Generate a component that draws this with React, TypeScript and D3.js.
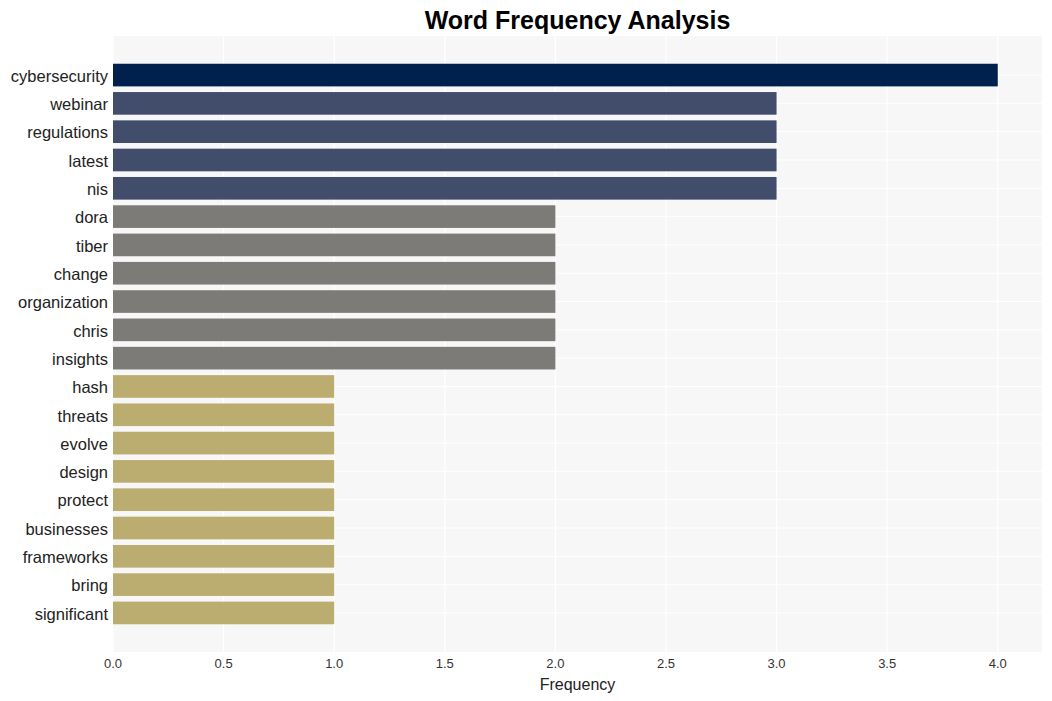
import { useEffect, useRef } from 'react'
import * as d3 from 'd3'

const words = [
  'cybersecurity', 'webinar', 'regulations', 'latest', 'nis', 'dora', 'tiber', 'change',
  'organization', 'chris', 'insights', 'hash', 'threats', 'evolve', 'design', 'protect',
  'businesses', 'frameworks', 'bring', 'significant'
]
const counts = [4, 3, 3, 3, 3, 2, 2, 2, 2, 2, 2, 1, 1, 1, 1, 1, 1, 1, 1, 1]
const xTicks = [0, 0.5, 1, 1.5, 2, 2.5, 3, 3.5, 4]

const colorFor: Record<number, string> = {
  4: '#00204e',
  3: '#414d6b',
  2: '#7c7b78',
  1: '#bbac6f'
}

const width = 1052
const height = 701

export default function App() {
  const svgRef = useRef<SVGSVGElement>(null)

  useEffect(() => {
    if (!svgRef.current) return
    const svg = d3.select(svgRef.current)
    svg.selectAll('*').remove()

    const margin = { top: 36, right: 10, bottom: 49, left: 113 }
    const innerWidth = width - margin.left - margin.right
    const innerHeight = height - margin.top - margin.bottom

    const x = d3.scaleLinear().domain([0, 4.2]).range([0, innerWidth])
    const y = d3.scaleBand<string>()
      .domain(words)
      .range([0, innerHeight])
      .paddingInner(0.2)
      .paddingOuter(0.98)

    svg.append('rect')
      .attr('width', width)
      .attr('height', height)
      .attr('fill', '#ffffff')

    const g = svg.append('g')
      .attr('transform', `translate(${margin.left},${margin.top})`)

    g.append('rect')
      .attr('width', innerWidth)
      .attr('height', innerHeight)
      .attr('fill', '#f7f7f7')

    // grid
    g.selectAll('.vgrid')
      .data(xTicks)
      .enter()
      .append('line')
      .attr('x1', d => x(d))
      .attr('x2', d => x(d))
      .attr('y1', 0)
      .attr('y2', innerHeight)
      .attr('stroke', '#ffffff')
      .attr('stroke-width', 1.2)

    g.selectAll('.hgrid')
      .data(words)
      .enter()
      .append('line')
      .attr('x1', 0)
      .attr('x2', innerWidth)
      .attr('y1', d => (y(d) ?? 0) + y.bandwidth() / 2)
      .attr('y2', d => (y(d) ?? 0) + y.bandwidth() / 2)
      .attr('stroke', '#ffffff')
      .attr('stroke-width', 1)

    // bars
    g.selectAll('.bar')
      .data(words)
      .enter()
      .append('rect')
      .attr('x', 0)
      .attr('y', d => y(d) ?? 0)
      .attr('width', (d, i) => x(counts[i]))
      .attr('height', y.bandwidth())
      .attr('fill', (d, i) => colorFor[counts[i]])

    // y labels
    g.selectAll('.ylabel')
      .data(words)
      .enter()
      .append('text')
      .attr('x', -5)
      .attr('y', d => (y(d) ?? 0) + y.bandwidth() / 2 + 1)
      .attr('dy', '0.35em')
      .attr('text-anchor', 'end')
      .attr('fill', '#222')
      .style('font-family', 'Liberation Sans, Arial, sans-serif')
      .style('font-size', '16.5px')
      .text(d => d)

    // x tick labels
    g.selectAll('.xlabel')
      .data(xTicks)
      .enter()
      .append('text')
      .attr('x', d => x(d))
      .attr('y', innerHeight + 11)
      .attr('dy', '0.35em')
      .attr('text-anchor', 'middle')
      .attr('fill', '#333')
      .style('font-family', 'Liberation Sans, Arial, sans-serif')
      .style('font-size', '13px')
      .text(d => d3.format('.1f')(d))

    g.append('text')
      .attr('x', innerWidth / 2)
      .attr('y', innerHeight + 32)
      .attr('dy', '0.35em')
      .attr('text-anchor', 'middle')
      .attr('fill', '#222')
      .style('font-family', 'Liberation Sans, Arial, sans-serif')
      .style('font-size', '16px')
      .text('Frequency')

    svg.append('text')
      .attr('x', margin.left + innerWidth / 2)
      .attr('y', 20)
      .attr('dy', '0.35em')
      .attr('text-anchor', 'middle')
      .attr('fill', '#000')
      .style('font-family', 'Liberation Sans, Arial, sans-serif')
      .style('font-size', '25px')
      .style('font-weight', 'bold')
      .text('Word Frequency Analysis')
  }, [])

  return (
    <svg
      ref={svgRef}
      width={width}
      height={height}
      style={{ position: 'absolute', left: 0, top: 0 }}
    />
  )
}
